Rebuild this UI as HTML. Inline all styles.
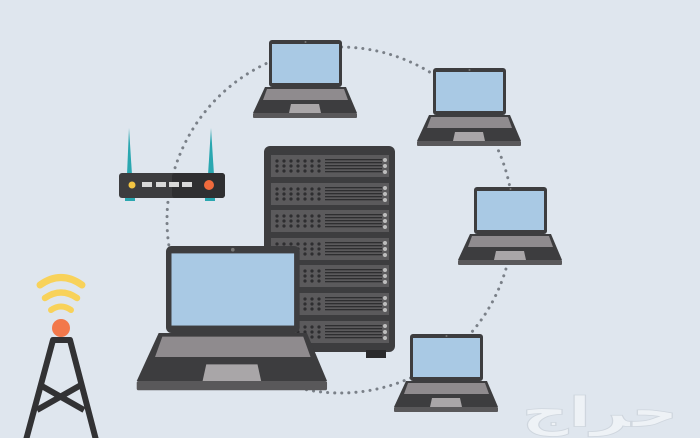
<!DOCTYPE html>
<html><head><meta charset="utf-8"><style>
html,body{margin:0;padding:0;background:#dfe6ee;}
svg{display:block}
</style></head><body>
<svg width="700" height="438" viewBox="0 0 700 438" xmlns="http://www.w3.org/2000/svg">
<defs>
<g id="lap">
  <rect x="0" y="0" width="73" height="47" rx="3" fill="#3d3d3f"/>
  <rect x="3" y="4" width="67" height="39" fill="#a9c9e4"/>
  <circle cx="36.5" cy="2" r="1" fill="#777"/>
  <polygon points="-4,47 77,47 88,73 -16,73" fill="#3d3d3f"/>
  <polygon points="-2,49 75,49 79,60 -6,60" fill="#8f8b8e"/>
  <polygon points="22,64 50,64 52,73 20,73" fill="#a9a6a8"/>
  <rect x="-16" y="73" width="104" height="5" rx="1" fill="#59585a"/>
</g>
<g id="unit">
  <rect x="0" y="0" width="118" height="22" fill="#5b5a5c"/>
  <g fill="#2e2e30">
    <circle cx="6" cy="6" r="1.6"/><circle cx="6" cy="11" r="1.6"/><circle cx="6" cy="16" r="1.6"/>
    <circle cx="13" cy="6" r="1.6"/><circle cx="13" cy="11" r="1.6"/><circle cx="13" cy="16" r="1.6"/>
    <circle cx="20" cy="6" r="1.6"/><circle cx="20" cy="11" r="1.6"/><circle cx="20" cy="16" r="1.6"/>
    <circle cx="27" cy="6" r="1.6"/><circle cx="27" cy="11" r="1.6"/><circle cx="27" cy="16" r="1.6"/>
    <circle cx="34" cy="6" r="1.6"/><circle cx="34" cy="11" r="1.6"/><circle cx="34" cy="16" r="1.6"/>
    <circle cx="41" cy="6" r="1.6"/><circle cx="41" cy="11" r="1.6"/><circle cx="41" cy="16" r="1.6"/>
    <circle cx="48" cy="6" r="1.6"/><circle cx="48" cy="11" r="1.6"/><circle cx="48" cy="16" r="1.6"/>
    <rect x="54" y="4" width="57" height="1.3"/><rect x="54" y="7" width="57" height="1.3"/>
    <rect x="54" y="10" width="57" height="1.3"/><rect x="54" y="13" width="57" height="1.3"/>
    <rect x="54" y="16" width="57" height="1.3"/>
  </g>
  <g fill="#bdbdbd">
    <circle cx="114" cy="5" r="2"/><circle cx="114" cy="11" r="2"/><circle cx="114" cy="17" r="2"/>
  </g>
</g>
</defs>

<circle cx="340" cy="220" r="173" fill="none" stroke="#7a8088" stroke-width="3" stroke-dasharray="0.1 7" stroke-linecap="round"/>

<polygon points="127,175 129,128 132,175" fill="#2aa7b0"/>
<polygon points="208,175 211,128 214,175" fill="#2aa7b0"/>
<rect x="125" y="193" width="10" height="8" fill="#2aa7b0"/>
<rect x="205" y="193" width="10" height="8" fill="#2aa7b0"/>
<rect x="119" y="173" width="106" height="25" rx="3" fill="#3d3d3f"/>
<rect x="172" y="173" width="53" height="25" rx="3" fill="#2f2f31"/>
<circle cx="132" cy="185" r="3.5" fill="#f4c542"/>
<rect x="142" y="182" width="10" height="5" fill="#d9d9d9"/>
<rect x="156" y="182" width="10" height="5" fill="#d9d9d9"/>
<rect x="169" y="182" width="10" height="5" fill="#d9d9d9"/>
<rect x="182" y="182" width="10" height="5" fill="#d9d9d9"/>
<circle cx="209" cy="185" r="5" fill="#f06a3c"/>

<rect x="264" y="146" width="131" height="206" rx="6" fill="#3d3d3f"/>
<rect x="366" y="350" width="20" height="8" fill="#2a2a2c"/>
<use href="#unit" x="271" y="155"/>
<use href="#unit" x="271" y="183"/>
<use href="#unit" x="271" y="210"/>
<use href="#unit" x="271" y="238"/>
<use href="#unit" x="271" y="265"/>
<use href="#unit" x="271" y="293"/>
<use href="#unit" x="271" y="321"/>

<use href="#lap" transform="translate(269,40)"/>
<use href="#lap" transform="translate(433,68)"/>
<use href="#lap" transform="translate(474,187)"/>
<use href="#lap" transform="translate(410,334)"/>

<g transform="translate(166,246) scale(1.83,1.85)">
  <use href="#lap"/>
</g>

<path d="M40,285 Q61,270 82,285" fill="none" stroke="#f8d25a" stroke-width="7" stroke-linecap="round"/>
<path d="M45,298 Q61,287 77,298" fill="none" stroke="#f8d25a" stroke-width="6.5" stroke-linecap="round"/>
<path d="M51,310 Q61,303 71,310" fill="none" stroke="#f8d25a" stroke-width="6" stroke-linecap="round"/>
<circle cx="61" cy="328" r="9" fill="#f2784b"/>
<g stroke="#323234" stroke-width="6" fill="none" stroke-linejoin="round">
  <path d="M26,440 L53,340 L70,340 L96,440"/>
  <path d="M40,385 L84,410 M81,385 L37,410"/>
</g>

<text x="600" y="428" font-family="'Liberation Sans','DejaVu Sans',sans-serif" font-size="52" font-weight="bold" fill="#eef2f6" stroke="#cfd6de" stroke-width="1" text-anchor="middle" transform="translate(600,0) scale(1.25,0.8) translate(-600,105)">حراج</text>
</svg>
</body></html>
